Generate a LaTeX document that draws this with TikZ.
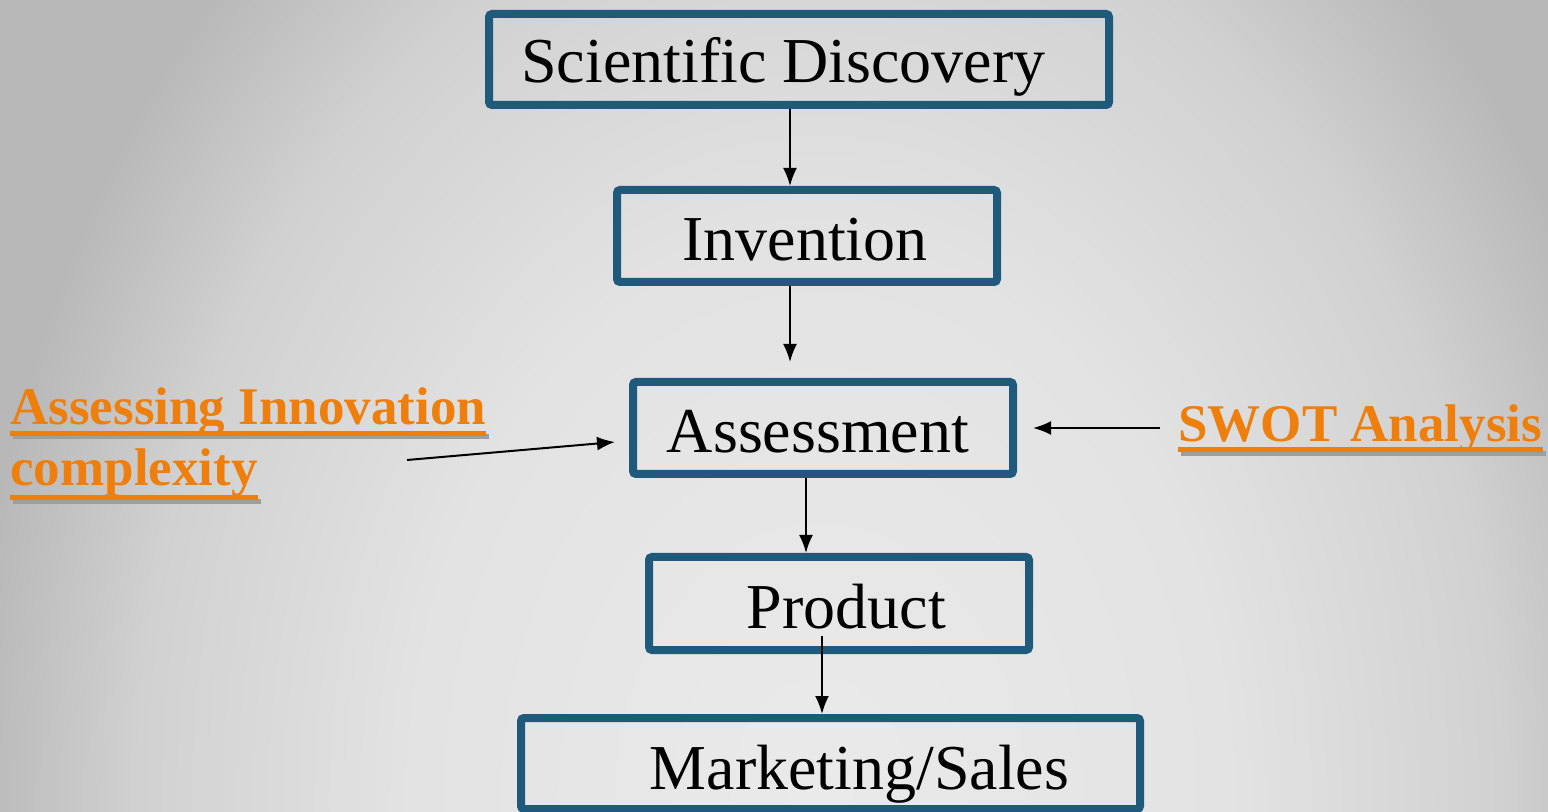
\documentclass[tikz,border=0pt]{standalone}
\usepackage{fontspec}
\setmainfont{Liberation Serif}
\usetikzlibrary{arrows.meta}
\definecolor{boxblue}{RGB}{31,90,124}
\definecolor{hotorange}{RGB}{238,127,12}
\definecolor{shadowgray}{RGB}{158,158,158}
\definecolor{bgdark}{RGB}{184,184,184}
\pgfdeclareradialshading{backdrop}{\pgfpoint{0bp}{0bp}}{rgb(0bp)=(0.918,0.918,0.918);
  rgb(12bp)=(0.89,0.89,0.89); rgb(20bp)=(0.82,0.82,0.82); rgb(25bp)=(0.722,0.722,0.722);
  rgb(50bp)=(0.722,0.722,0.722)}
\begin{document}
    \begin{tikzpicture}[x=0.5pt,y=-0.5pt,
      stage/.style={draw=boxblue,line width=4pt,rounded corners=1.5pt,
        minimum width=190pt,minimum height=46pt,inner sep=0pt},
      stagetext/.style={anchor=base,inner sep=0pt,font=\fontsize{32}{38}\selectfont},
      flow/.style={-{Latex[length=9pt,width=7pt]},line width=1pt},
      side/.style={anchor=base west,inner sep=0pt,text=hotorange,
        font=\fontsize{26.5}{32}\selectfont\bfseries},
      uline/.style={draw=hotorange,line width=2.5pt},
      ushadow/.style={draw=shadowgray,line width=2.5pt}]
      \fill[bgdark] (0,0) rectangle (1548,812);
      \begin{scope}
        \clip (0,0) rectangle (1548,812);
        \shade[shading=backdrop] (820,800) ellipse [x radius=425pt,y radius=575pt];
      \end{scope}
      \useasboundingbox (0,0) rectangle (1548,812);
      % the chain of stages
      \node[stage,minimum width=310pt,minimum height=45.5pt] (disc) at (799,59.5) {};
      \node[stage] (inv) at (807,236) {};
      \node[stage] (ass) at (823,428) {};
      \node[stage,minimum height=46.5pt] (prod) at (839,603.5) {};
      \node[stage,minimum width=309.5pt,minimum height=45.5pt] (mkt) at (830.5,763.5) {};
      \node[stagetext] (disctext) at (783.5,83) {Scientific Discovery};
      \node[stagetext] (invtext) at (805,261) {Invention};
      \node[stagetext] (asstext) at (818,453) {Assessment};
      \node[stagetext] (prodtext) at (846.5,628) {Product};
      \node[stagetext] (mkttext) at (859.5,789) {Marketing/Sales};
      \draw[flow] ([xshift=-8.5pt]inv.north |- disc.south) -- ([xshift=-8.5pt]inv.north);
      \draw[flow] ([xshift=-8.5pt]inv.south) -- ([xshift=-8.5pt,yshift=8pt]inv.south |- ass.north);
      \draw[flow] ([xshift=-8.5pt]ass.south) -- ([xshift=-8.5pt]ass.south |- prod.north);
      \draw[flow] ([xshift=-8.5pt,yshift=-16pt]prod.center) -- ([xshift=-8.5pt]prod.center |- mkt.north);
      % inputs to the assessment
      \node[side] (innov) at (10,425) {Assessing Innovation};
      \node[side] (compl) at (10,486) {complexity};
      \node[side] (swot) at (1178,442) {SWOT Analysis};
      \draw[ushadow] ([xshift=1.5pt,yshift=-6pt]innov.base west) -- ([xshift=1.5pt,yshift=-6pt]innov.base east);
      \draw[ushadow] ([xshift=1.5pt,yshift=-7.75pt]compl.base west) -- ([xshift=1.5pt,yshift=-7.75pt]compl.base east);
      \draw[ushadow] ([xshift=1.5pt,yshift=-5.75pt]swot.base west) -- ([xshift=1.5pt,yshift=-5.75pt]swot.base east);
      \draw[uline] ([yshift=-4.25pt]innov.base west) -- ([yshift=-4.25pt]innov.base east);
      \draw[uline] ([yshift=-6pt]compl.base west) -- ([yshift=-6pt]compl.base east);
      \draw[uline] ([yshift=-4pt]swot.base west) -- ([yshift=-4pt]swot.base east);
      \coordinate (innovout) at (407,460);
      \coordinate (swotout) at (1160,428);
      \draw[flow] (innovout) -- ([xshift=-7pt,yshift=-7pt]ass.west);
      \draw[flow] (swotout) -- ([xshift=8pt]ass.east);
    \end{tikzpicture}
\end{document}
